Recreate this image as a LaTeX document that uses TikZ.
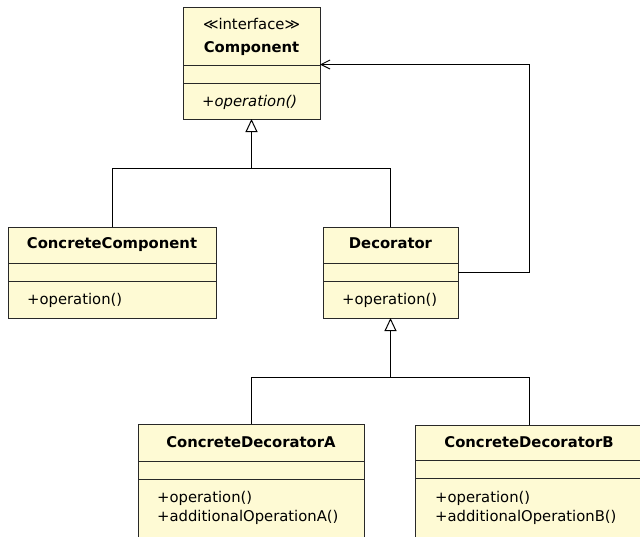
\documentclass[tikz,border=0pt]{standalone}
\usepackage{fontspec}
\setmainfont{DejaVu Sans}
\usetikzlibrary{arrows.meta,calc}
\definecolor{classfill}{RGB}{254,250,212}
\definecolor{edgecol}{RGB}{40,40,40}
\newcommand\compartments[3]{%
  \draw[sepline] ([yshift=-#2pt]#1.north west) -- ([yshift=-#2pt]#1.north east);
  \draw[sepline] ([yshift=-#3pt]#1.north west) -- ([yshift=-#3pt]#1.north east);}
\begin{document}
\begin{tikzpicture}[x=1pt,y=-1pt,
  classbox/.style={draw=edgecol, line width=1pt, fill=classfill, anchor=north west, inner sep=0pt, outer sep=0pt},
  sepline/.style={draw=edgecol, line width=1pt},
  title/.style={font=\fontsize{14.8}{17}\selectfont\bfseries, anchor=base, inner sep=0pt},
  stereo/.style={font=\fontsize{14.8}{17}\selectfont, anchor=base, inner sep=0pt},
  member/.style={font=\fontsize{14.8}{17}\selectfont, anchor=base west, inner sep=0pt},
  imember/.style={font=\fontsize{14.8}{17}\selectfont\itshape, anchor=base west, inner sep=0pt},
  conn/.style={draw=black, line width=1pt},
  gen/.style={conn, -{Triangle[open, length=13pt, width=12pt, fill=white]}},
  assoc/.style={conn, -{Straight Barb[length=9pt, width=9pt]}}
]
\useasboundingbox (0,0) rectangle (640,536);

% class boxes
\node[classbox, minimum width=137pt, minimum height=112pt] (comp) at (183,7) {};
\node[classbox, minimum width=208pt, minimum height=91pt] (cc) at (8,227) {};
\node[classbox, minimum width=135pt, minimum height=91pt] (dec) at (323,227) {};
\node[classbox, minimum width=226pt, minimum height=120pt] (cda) at (138,424) {};
\node[classbox, minimum width=228pt, minimum height=120pt] (cdb) at (415,425) {};

\compartments{comp}{58}{76}
\compartments{cc}{36}{54}
\compartments{dec}{36}{54}
\compartments{cda}{37}{55}
\compartments{cdb}{35}{53}

% texts
\node[stereo] (compst) at (251.5,29) {≪interface≫};
\node[title] (compt) at (251.5,52) {Component};
\node[imember] (compop) at (202,106) {+operation()};

\node[title] (cct) at (112,248) {ConcreteComponent};
\node[member] (ccop) at (27,304) {+operation()};

\node[title] (dect) at (390.5,248) {Decorator};
\node[member] (decop) at (342,304) {+operation()};

\node[title] (cdat) at (251,447) {ConcreteDecoratorA};
\node[member] (cdaop1) at (157,502) {+operation()};
\node[member] (cdaop2) at (157,521) {+additionalOperationA()};

\node[title] (cdbt) at (529,447) {ConcreteDecoratorB};
\node[member] (cdbop1) at (435,502) {+operation()};
\node[member] (cdbop2) at (435,521) {+additionalOperationB()};

% connectors
\coordinate (j1) at (251.5,168.5);
\coordinate (j2) at (390.5,377.5);
\coordinate (rt) at (529,0);
\coordinate (decout) at ([yshift=-45.5pt]dec.north east);
\coordinate (compin) at ([yshift=-57.5pt]comp.north east);

\draw[conn] (cc.north) |- (j1) -| (dec.north);
\draw[gen] (j1) -- (comp.south);

\draw[assoc] (decout) -- (decout -| rt) -- (compin -| rt) -- (compin);

\draw[conn] (cda.north) |- (j2) -| (cdb.north);
\draw[gen] (j2) -- (dec.south);
\end{tikzpicture}
\end{document}
